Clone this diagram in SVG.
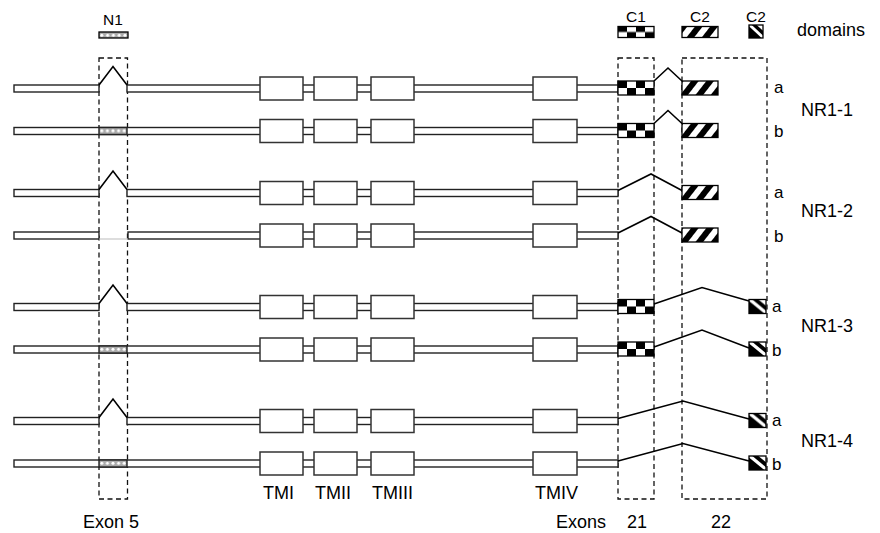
<svg xmlns="http://www.w3.org/2000/svg" width="880" height="533" viewBox="0 0 880 533">
<style>
text{font-family:"Liberation Sans",Arial,sans-serif;fill:#000}
.strip{fill:#fff;stroke:#222;stroke-width:1.4}
.tm{fill:#fff;stroke:#333;stroke-width:1.5}
.dash{fill:none;stroke:#111;stroke-width:1.3;stroke-dasharray:5 3.5}
.conn{fill:none;stroke:#000;stroke-width:1.6;stroke-linejoin:miter}
.dom{stroke:#000;stroke-width:1.3}
.c1{fill:url(#checker)}
.c2{fill:url(#hatch)}
.c2s{fill:url(#diag)}
.n1{fill:url(#dots)}
.lbl{font-size:18px}
.ab{font-size:17px}
.lg{font-size:15.5px}
.bt{font-size:18px}
</style>
<defs>
<pattern id="checker" patternUnits="objectBoundingBox" width="0.5" height="1" patternContentUnits="objectBoundingBox">
<rect x="0" y="0" width="0.5" height="1" fill="#fff"/>
<rect x="0" y="0" width="0.25" height="0.5" fill="#000"/>
<rect x="0.25" y="0.5" width="0.25" height="0.5" fill="#000"/>
</pattern>
<pattern id="hatch" patternUnits="userSpaceOnUse" width="12" height="12" patternTransform="rotate(38)">
<rect x="0" y="0" width="12" height="12" fill="#fff"/>
<rect x="0" y="0" width="6" height="12" fill="#000"/>
</pattern>
<pattern id="diag" patternUnits="objectBoundingBox" width="1" height="1" patternContentUnits="objectBoundingBox">
<rect x="0" y="0" width="1" height="1" fill="#fff"/>
<polygon points="0,0.1 0,1 0.9,1" fill="#000"/>
<polygon points="0.2,0 0.55,0 1,0.45 1,0.8" fill="#000"/>
</pattern>
<pattern id="dots" patternUnits="objectBoundingBox" width="0.2" height="1">
<rect x="0" y="0" width="8" height="10" fill="#aaa"/>
<circle cx="2.8" cy="3.3" r="1.5" fill="#fff"/>
</pattern>
</defs>

<g id="regions">
<rect class="dash" x="99" y="58" width="28.5" height="441"/>
<rect class="dash" x="618" y="58" width="36" height="441"/>
<rect class="dash" x="682" y="58" width="85" height="441"/>
</g>

<g id="legend">
<text class="lg" x="113" y="25" text-anchor="middle">N1</text>
<rect class="dom n1" x="99" y="32" width="29" height="6"/>
<text class="lg" x="636" y="22" text-anchor="middle">C1</text>
<rect class="dom c1" x="618" y="26.5" width="36" height="11"/>
<text class="lg" x="700" y="22" text-anchor="middle">C2</text>
<rect class="dom c2" x="682" y="26.5" width="36" height="11"/>
<text class="lg" x="756" y="22" text-anchor="middle">C2</text>
<rect class="dom c2s" x="749" y="25" width="14" height="13"/>
<text class="lbl" x="797" y="36">domains</text>
</g>

<g id="NR1-1a" transform="translate(0,88.5)">
<rect class="strip" x="14" y="-3.5" width="85" height="7"/>
<rect class="strip" x="127" y="-3.5" width="491" height="7"/>
<rect class="tm" x="260" y="-11.5" width="43" height="23"/>
<rect class="tm" x="314" y="-11.5" width="43" height="23"/>
<rect class="tm" x="371" y="-11.5" width="43" height="23"/>
<rect class="tm" x="533" y="-11.5" width="44" height="23"/>
<rect class="dom c1" x="618" y="-7.5" width="36" height="14"/>
<rect class="dom c2" x="682" y="-7.5" width="36" height="14"/>
<text class="ab" x="774" y="4.5">a</text>
</g>
<g id="NR1-1b" transform="translate(0,131)">
<rect class="strip" x="14" y="-3.5" width="604" height="7"/>
<rect class="strip n1" x="99" y="-3.5" width="28" height="7"/>
<rect class="tm" x="260" y="-11.5" width="43" height="23"/>
<rect class="tm" x="314" y="-11.5" width="43" height="23"/>
<rect class="tm" x="371" y="-11.5" width="43" height="23"/>
<rect class="tm" x="533" y="-11.5" width="44" height="23"/>
<rect class="dom c1" x="618" y="-7.5" width="36" height="14"/>
<rect class="dom c2" x="682" y="-7.5" width="36" height="14"/>
<text class="ab" x="774" y="6">b</text>
</g>
<text id="label-NR1-1" class="lbl" x="801" y="116">NR1-1</text>

<g id="NR1-2a" transform="translate(0,193)">
<rect class="strip" x="14" y="-3.5" width="85" height="7"/>
<rect class="strip" x="127" y="-3.5" width="491" height="7"/>
<rect class="tm" x="260" y="-11.5" width="43" height="23"/>
<rect class="tm" x="314" y="-11.5" width="43" height="23"/>
<rect class="tm" x="371" y="-11.5" width="43" height="23"/>
<rect class="tm" x="533" y="-11.5" width="44" height="23"/>
<rect class="dom c2" x="682" y="-7.5" width="36" height="14"/>
<text class="ab" x="774" y="5">a</text>
</g>
<g id="NR1-2b" transform="translate(0,235.5)">
<rect class="strip" x="14" y="-3.5" width="85" height="7"/>
<rect class="strip" x="128" y="-3.5" width="490" height="7"/>
<line x1="99" y1="3.5" x2="128" y2="3.5" stroke="#bbb" stroke-width="1"/>
<rect class="tm" x="260" y="-11.5" width="43" height="23"/>
<rect class="tm" x="314" y="-11.5" width="43" height="23"/>
<rect class="tm" x="371" y="-11.5" width="43" height="23"/>
<rect class="tm" x="533" y="-11.5" width="44" height="23"/>
<rect class="dom c2" x="682" y="-7.5" width="36" height="14"/>
<text class="ab" x="774" y="6">b</text>
</g>
<text id="label-NR1-2" class="lbl" x="801" y="217">NR1-2</text>

<g id="NR1-3a" transform="translate(0,307)">
<rect class="strip" x="14" y="-3.5" width="85" height="7"/>
<rect class="strip" x="127" y="-3.5" width="491" height="7"/>
<rect class="tm" x="260" y="-11.5" width="43" height="23"/>
<rect class="tm" x="314" y="-11.5" width="43" height="23"/>
<rect class="tm" x="371" y="-11.5" width="43" height="23"/>
<rect class="tm" x="533" y="-11.5" width="44" height="23"/>
<rect class="dom c1" x="618" y="-7.5" width="36" height="14"/>
<rect class="dom c2s" x="749" y="-7.5" width="17" height="14"/>
<text class="ab" x="772" y="5">a</text>
</g>
<g id="NR1-3b" transform="translate(0,349.5)">
<rect class="strip" x="14" y="-3.5" width="604" height="7"/>
<rect class="strip n1" x="99" y="-3.5" width="28" height="7"/>
<rect class="tm" x="260" y="-11.5" width="43" height="23"/>
<rect class="tm" x="314" y="-11.5" width="43" height="23"/>
<rect class="tm" x="371" y="-11.5" width="43" height="23"/>
<rect class="tm" x="533" y="-11.5" width="44" height="23"/>
<rect class="dom c1" x="618" y="-7.5" width="36" height="14"/>
<rect class="dom c2s" x="749" y="-7.5" width="17" height="14"/>
<text class="ab" x="772" y="6">b</text>
</g>
<text id="label-NR1-3" class="lbl" x="801" y="332">NR1-3</text>

<g id="NR1-4a" transform="translate(0,421)">
<rect class="strip" x="14" y="-3.5" width="85" height="7"/>
<rect class="strip" x="127" y="-3.5" width="491" height="7"/>
<rect class="tm" x="260" y="-11.5" width="43" height="23"/>
<rect class="tm" x="314" y="-11.5" width="43" height="23"/>
<rect class="tm" x="371" y="-11.5" width="43" height="23"/>
<rect class="tm" x="533" y="-11.5" width="44" height="23"/>
<rect class="dom c2s" x="749" y="-7.5" width="17" height="14"/>
<text class="ab" x="772" y="5">a</text>
</g>
<g id="NR1-4b" transform="translate(0,463.5)">
<rect class="strip" x="14" y="-3.5" width="604" height="7"/>
<rect class="strip n1" x="99" y="-3.5" width="28" height="7"/>
<rect class="tm" x="260" y="-11.5" width="43" height="23"/>
<rect class="tm" x="314" y="-11.5" width="43" height="23"/>
<rect class="tm" x="371" y="-11.5" width="43" height="23"/>
<rect class="tm" x="533" y="-11.5" width="44" height="23"/>
<rect class="dom c2s" x="749" y="-7.5" width="17" height="14"/>
<text class="ab" x="772" y="6">b</text>
</g>
<text id="label-NR1-4" class="lbl" x="801" y="447">NR1-4</text>

<g id="connectors">
<polyline class="conn" points="99,85 113,66.5 127,85"/>
<polyline class="conn" points="99,189.5 113,171 127,189.5"/>
<polyline class="conn" points="99,303.5 113,285 127,303.5"/>
<polyline class="conn" points="99,417.5 113,399 127,417.5"/>
<polyline class="conn" points="654,81 668,68 682,81"/>
<polyline class="conn" points="654,123.5 668,110.5 682,123.5"/>
<polyline class="conn" points="618,190.5 651,174 682,190.5"/>
<polyline class="conn" points="618,233 651,216.5 682,233"/>
<polyline class="conn" points="654,304 702,287.5 749,301"/>
<polyline class="conn" points="654,347 702,330 749,348"/>
<polyline class="conn" points="618,418.5 683,401 749,419"/>
<polyline class="conn" points="618,461 683,443.5 749,461"/>
</g>

<g id="bottom-labels">
<text class="bt" x="263" y="499">TMI</text>
<text class="bt" x="315" y="499">TMII</text>
<text class="bt" x="372" y="499">TMIII</text>
<text class="bt" x="535" y="499">TMIV</text>
<text class="bt" x="111" y="528" text-anchor="middle">Exon 5</text>
<text class="bt" x="556" y="528">Exons</text>
<text class="bt" x="627" y="528">21</text>
<text class="bt" x="711" y="528">22</text>
</g>
</svg>
